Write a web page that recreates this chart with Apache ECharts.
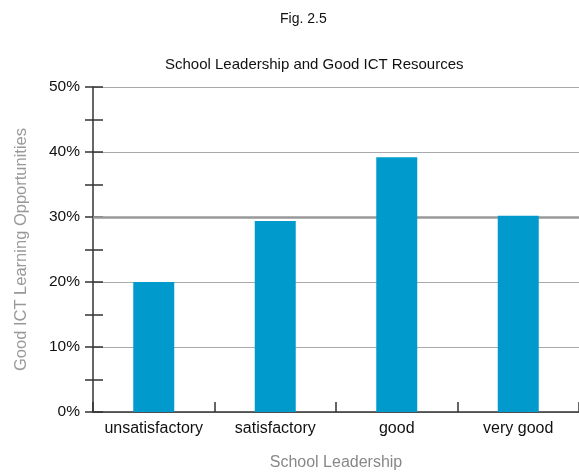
<!DOCTYPE html>
<html>
<head>
<meta charset="utf-8">
<script src="https://cdn.jsdelivr.net/npm/echarts@6/dist/echarts.min.js"></script>
<style>
html,body{margin:0;padding:0;background:#fff;}
#main{width:579px;height:472px;}
</style>
</head>
<body>
<div id="main"></div>
<script>
var categories = ['unsatisfactory', 'satisfactory', 'good', 'very good'];
var values = [20, 29.4, 39.2, 30.2];
var yTicks = [0, 10, 20, 30, 40, 50];
var highlightLine = 30;

var FONT = 'Liberation Sans';
var chart = echarts.init(document.getElementById('main'), null, {renderer: 'canvas'});
chart.setOption({
  animation: false,
  backgroundColor: '#fff',
  grid: {left: 93, right: 0, top: 87, bottom: 60, containLabel: false, outerBoundsMode: 'none'},
  graphic: [
    {type: 'text', left: 280, top: 12, style: {text: 'Fig. 2.5', font: '14px ' + FONT, fill: '#111'}},
    {type: 'text', left: 165, top: 57, style: {text: 'School Leadership and Good ICT Resources', font: '15px ' + FONT, fill: '#111'}}
  ],
  xAxis: {
    type: 'category',
    data: categories,
    boundaryGap: true,
    axisLine: {lineStyle: {color: '#333', width: 1.5}},
    axisTick: {show: true, inside: true, length: 10, interval: 0, lineStyle: {color: '#333', width: 1.5}},
    axisLabel: {color: '#111', fontFamily: FONT, fontSize: 16, margin: 9, interval: 0, hideOverlap: false},
    name: 'School Leadership',
    nameLocation: 'middle',
    nameGap: 43,
    nameTextStyle: {color: '#888', fontFamily: FONT, fontSize: 16}
  },
  yAxis: [
    {
      type: 'value', min: yTicks[0], max: yTicks[yTicks.length - 1], interval: 10,
      axisLine: {show: true, lineStyle: {color: '#333', width: 1.5}},
      axisTick: {show: false},
      axisLabel: {formatter: '{value}%', color: '#111', fontFamily: FONT, fontSize: 15.5, margin: 13},
      splitLine: {show: true, lineStyle: {color: '#aaa', width: 1}},
      name: 'Good ICT Learning Opportunities',
      nameLocation: 'middle',
      nameGap: 63,
      nameRotate: 90,
      nameTextStyle: {color: '#999', fontFamily: FONT, fontSize: 16.5}
    },
    {
      type: 'value', min: 0, max: 50, interval: 5, position: 'left',
      axisLine: {show: false},
      axisTick: {show: true, inside: false, length: 8, lineStyle: {color: '#333', width: 1.5}},
      axisLabel: {show: false}, splitLine: {show: false}
    },
    {
      type: 'value', min: 0, max: 50, interval: 5, position: 'left',
      axisLine: {show: false},
      axisTick: {show: true, inside: true, length: 10, lineStyle: {color: '#333', width: 1.5}},
      axisLabel: {show: false}, splitLine: {show: false}
    }
  ],
  series: [
    {
      type: 'line', data: [], z: 1, silent: true,
      markLine: {
        z: 1, silent: true, symbol: 'none', label: {show: false},
        lineStyle: {color: '#999', width: 2.5, type: 'solid'},
        data: [{yAxis: highlightLine}]
      }
    },
    {
      type: 'bar', data: values, barWidth: 41, z: 3,
      itemStyle: {color: '#009bcc'}
    }
  ]
});
</script>
</body>
</html>
